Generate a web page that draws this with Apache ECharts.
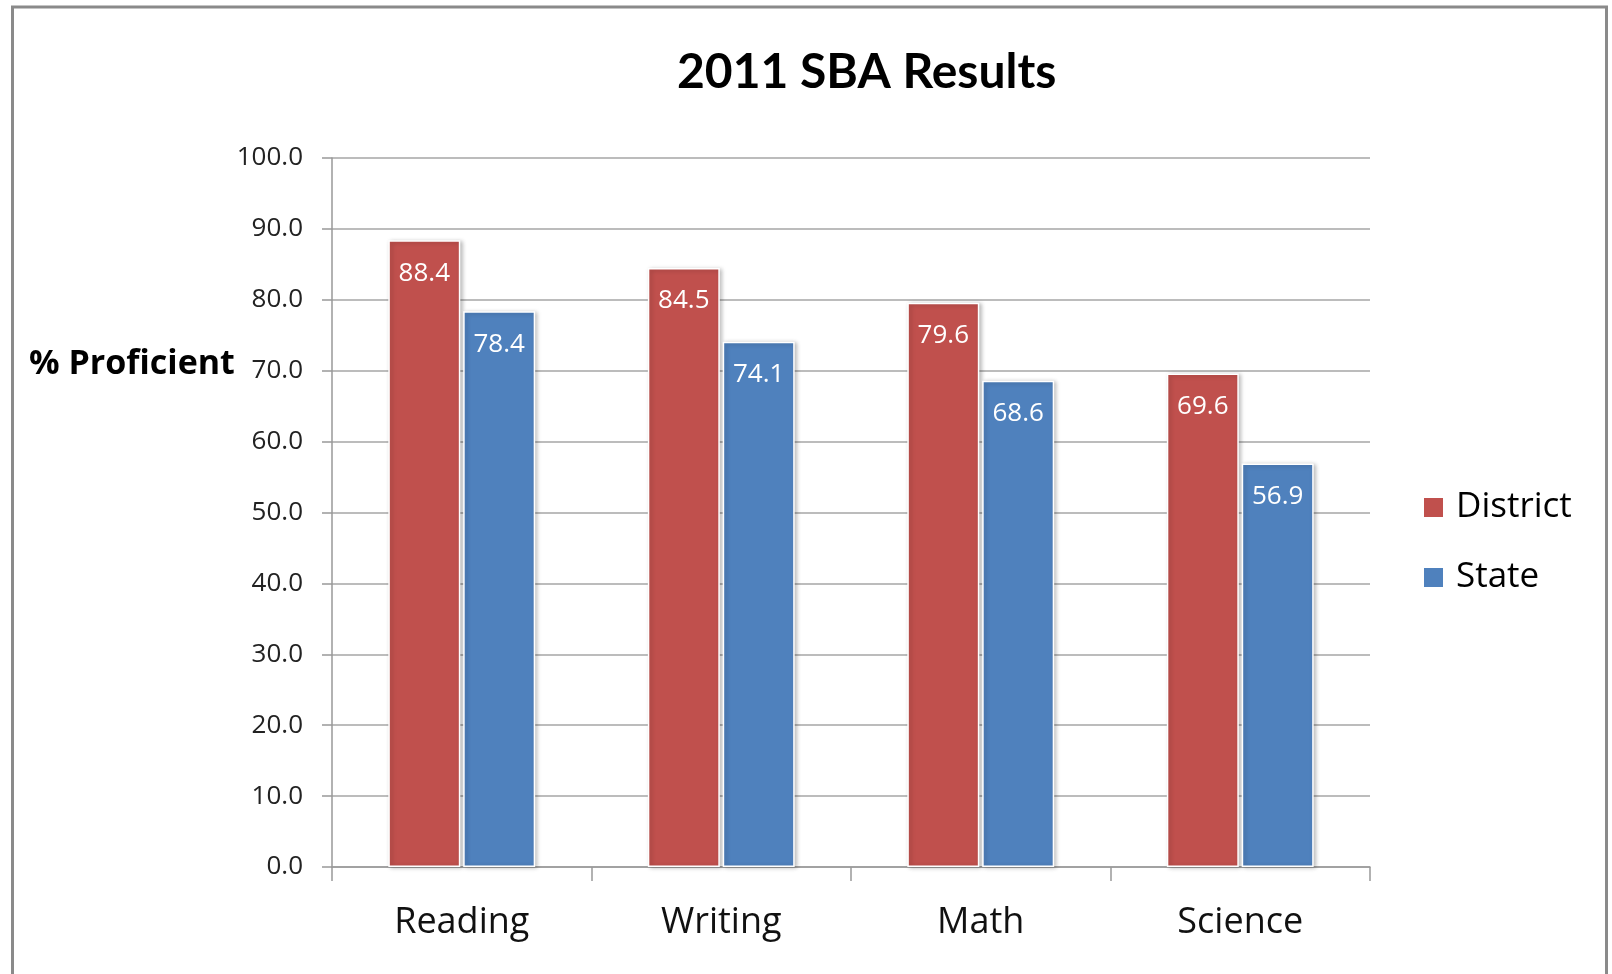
<!DOCTYPE html>
<html>
<head>
<meta charset="utf-8">
<script src="https://cdn.jsdelivr.net/npm/echarts@6/dist/echarts.min.js"></script>
<style>
html,body{margin:0;padding:0;background:#fff;}
#chart{width:1612px;height:974px;}
</style>
</head>
<body>
<div id="chart"></div>
<script>
const categories = ['Reading', 'Writing', 'Math', 'Science'];
const districtValues = [88.4, 84.5, 79.6, 69.6];
const stateValues = [78.4, 74.1, 68.6, 56.9];
const yTicks = [0, 10, 20, 30, 40, 50, 60, 70, 80, 90, 100];

const FONT = '"Open Sans", Lato, sans-serif';
const TITLE_FONT = 'Lato, "Open Sans", sans-serif';
const chart = echarts.init(document.getElementById('chart'));

const barStyle = (color) => ({
  color: color,
  borderColor: '#ffffff',
  borderWidth: 1.5,
  shadowColor: 'rgba(0,0,0,0.25)',
  shadowBlur: 4,
  shadowOffsetX: 2,
  shadowOffsetY: 1
});
const labelStyle = {
  show: true,
  position: 'insideTop',
  distance: 20,
  color: '#ffffff',
  fontFamily: FONT,
  fontSize: 26,
  formatter: (p) => p.value.toFixed(1)
};

chart.setOption({
  animation: false,
  backgroundColor: '#ffffff',
  title: {
    text: '2011 SBA Results',
    left: 672,
    top: 44,
    textStyle: { fontFamily: TITLE_FONT, fontSize: 48, fontWeight: 'bold', color: '#000' }
  },
  legend: {
    orient: 'vertical',
    left: 1422,
    top: 490,
    padding: 0,
    itemWidth: 21,
    itemHeight: 21,
    itemGap: 35,
    icon: 'rect',
    data: ['District', 'State'],
    textStyle: { fontFamily: FONT, fontSize: 35, color: '#000', padding: [0, 0, 0, 7] }
  },
  grid: { left: 332, right: 242, top: 158, bottom: 107 },
  xAxis: {
    type: 'category',
    data: categories,
    axisLine: { lineStyle: { color: '#999', width: 1.5 } },
    axisTick: { show: true, length: 14, lineStyle: { color: '#999', width: 1.5 } },
    axisLabel: { margin: 38, fontFamily: FONT, fontSize: 36, color: '#111' }
  },
  yAxis: {
    type: 'value',
    min: 0,
    max: 100,
    interval: 10,
    axisLine: { show: true, lineStyle: { color: '#999', width: 1.5 } },
    axisTick: { show: true, length: 10, lineStyle: { color: '#999', width: 1.5 } },
    splitLine: { show: true, lineStyle: { color: '#a6a6a6', width: 1.5 } },
    axisLabel: {
      margin: 29,
      fontFamily: FONT,
      fontSize: 26,
      color: '#222',
      formatter: (v) => (yTicks.indexOf(v) >= 0 ? v.toFixed(1) : '')
    }
  },
  series: [
    {
      name: 'District',
      type: 'bar',
      data: districtValues,
      barWidth: 72,
      barGap: '4%',
      itemStyle: barStyle('#C0504D'),
      label: labelStyle
    },
    {
      name: 'State',
      type: 'bar',
      data: stateValues,
      barWidth: 72,
      barGap: '4%',
      itemStyle: barStyle('#4F81BD'),
      label: labelStyle
    }
  ],
  graphic: [
    {
      type: 'rect',
      shape: { x: 12.5, y: 7, width: 1594, height: 1000 },
      style: { fill: 'none', stroke: '#8a8a8a', lineWidth: 3 },
      silent: true
    },
    {
      type: 'text',
      left: 29,
      top: 347,
      style: { text: '% Proficient', fontFamily: FONT, fontSize: 34, fontWeight: 'bold', fill: '#000' }
    }
  ]
});
</script>
</body>
</html>
